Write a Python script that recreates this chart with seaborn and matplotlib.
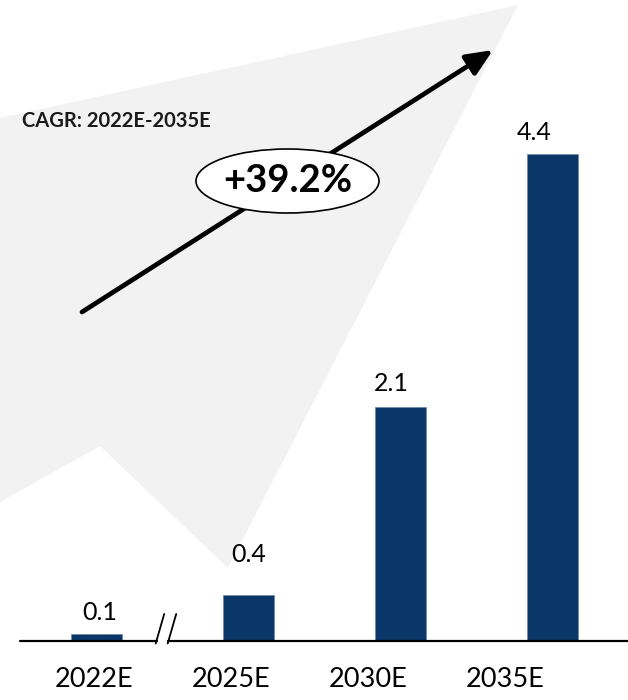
import matplotlib
matplotlib.use("Agg")
import matplotlib.pyplot as plt
import seaborn as sns
import pandas as pd
import numpy as np
from matplotlib.patches import Polygon, Ellipse, FancyArrowPatch, ArrowStyle
from matplotlib.lines import Line2D

# ---- data ----
categories = ["2022E", "2025E", "2030E", "2035E"]
values = [0.06, 0.41, 2.11, 4.40]
cagr_title = "CAGR: 2022E-2035E"
cagr_value = "+39.2%"

sns.set_theme(style="white")
plt.rcParams["font.family"] = ["Lato", "DejaVu Sans"]

W, H = 628, 700
fig = plt.figure(figsize=(W / 100, H / 100), dpi=100)
fig.patch.set_facecolor("white")


def px(x, y):
    return (x / W, 1 - y / H)


# axes geometry (pixels)
ax_left, ax_right, ax_bottom = 20, 628, 640.7
ax_top = 87.7
ax = fig.add_axes([ax_left / W, 1 - ax_bottom / H, (ax_right - ax_left) / W, (ax_bottom - ax_top) / H])
ax.patch.set_visible(False)

df = pd.DataFrame({"year": categories, "value": values})
sns.barplot(data=df, x="year", y="value", order=categories, color="#0b3668",
            width=0.335, saturation=1, edgecolor="#6f8cae", linewidth=0.6, ax=ax, zorder=3)
ax.set_xlim(-0.503, 3.497)
ax.set_ylim(0, 5)
for s in ax.spines.values():
    s.set_visible(False)
ax.set_yticks([])
ax.set_ylabel("")
ax.set_xlabel("")

# tick labels (offset from bars as in the reference)
tick_pos = [-0.015, 0.885, 1.79, 2.69]
ax.set_xticks(tick_pos)
ax.set_xticklabels(categories, fontsize=19.5, color="black")
ax.tick_params(axis="x", length=0, pad=19)

# value labels
dx = [3.5, 0, -9, -18]
dy = [22, 41, 24, 22]
for i, v in enumerate(values):
    ax.annotate(f"{v:.1f}", xy=(i, v), xytext=(dx[i] * 0.72, dy[i] * 0.72),
                textcoords="offset points", ha="center", va="center",
                fontsize=18, color="black", annotation_clip=False)

# baseline with break
ax.axhline(0, xmin=0, xmax=(157 - ax_left) / (ax_right - ax_left), color="black", lw=1.6, zorder=4, clip_on=False)
ax.axhline(0, xmin=(168 - ax_left) / (ax_right - ax_left), xmax=1, color="black", lw=1.6, zorder=4, clip_on=False)
for x0 in (155.7, 167.7):
    a, b = px(x0, 643.5), px(x0 + 8.5, 614)
    fig.add_artist(Line2D([a[0], b[0]], [a[1], b[1]], color="black", lw=1.3, transform=fig.transFigure))

# background gray shape
poly_pts = [px(0, 118), px(518, 5), px(228, 568), px(100, 446), px(0, 502)]
fig.add_artist(Polygon(poly_pts, closed=True, facecolor="#f2f2f2", edgecolor="none",
                       transform=fig.transFigure, zorder=-5))

# arrow
arr = FancyArrowPatch(px(82, 312), px(493, 50), transform=fig.transFigure,
                      arrowstyle=ArrowStyle("-|>", head_length=0.8, head_width=0.35),
                      mutation_scale=20, lw=3.4, color="black", shrinkA=0, shrinkB=0, zorder=5)
fig.add_artist(arr)

# ellipse with CAGR value
c = px(287.5, 181)
fig.add_artist(Ellipse(c, 183 / W, 64 / H, transform=fig.transFigure,
                       facecolor="white", edgecolor="black", lw=1.2, zorder=6))
fig.text(c[0], c[1], cagr_value, ha="center", va="center", fontsize=27.5,
         fontweight="bold", color="black", zorder=7)

# CAGR caption
t = px(22, 121)
fig.text(t[0], t[1], cagr_title, ha="left", va="center", fontsize=14.5,
         fontweight="bold", color="#1a1a1a", zorder=7)

fig.savefig("out.png", dpi=100)
